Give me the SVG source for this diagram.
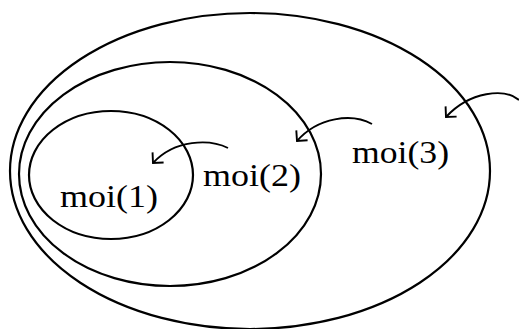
<svg xmlns="http://www.w3.org/2000/svg" width="519" height="329" viewBox="0 0 519 329">
<style>
.ring{fill:none;stroke:#000;stroke-width:2.2}
.arr{fill:none;stroke:#000;stroke-width:1.9;marker-end:url(#v)}
.lbl{font-family:"Liberation Serif","DejaVu Serif",serif;font-size:31px;fill:#000}
</style>
<defs>
<marker id="v" markerUnits="userSpaceOnUse" markerWidth="20" markerHeight="20" viewBox="-10 -10 20 20" refX="0" refY="0" orient="auto" overflow="visible">
<path d="M-7.5,-7.5 L0,0 L-7.5,7.5" fill="none" stroke="#000" stroke-width="1.9"/>
</marker>
</defs>
<rect width="519" height="329" fill="#fff"/>
<g id="moi3">
<ellipse class="ring" cx="250" cy="171" rx="240" ry="158"/>
<text class="lbl" x="352" y="163" textLength="97" lengthAdjust="spacingAndGlyphs">moi(3)</text>
</g>
<g id="moi2">
<ellipse class="ring" cx="170" cy="174" rx="151" ry="112"/>
<text class="lbl" x="203" y="186" textLength="98" lengthAdjust="spacingAndGlyphs">moi(2)</text>
</g>
<g id="moi1">
<ellipse class="ring" cx="111" cy="175" rx="82" ry="64"/>
<text class="lbl" x="60" y="207" textLength="98" lengthAdjust="spacingAndGlyphs">moi(1)</text>
</g>
<g id="connectors">
<path class="arr" d="M228,148 C210,139 175,139 153,163"/>
<path class="arr" d="M372,124 C352,113 318,117 297,141"/>
<path class="arr" d="M519,100 C505,88 470,91 446,117"/>
</g>
</svg>
